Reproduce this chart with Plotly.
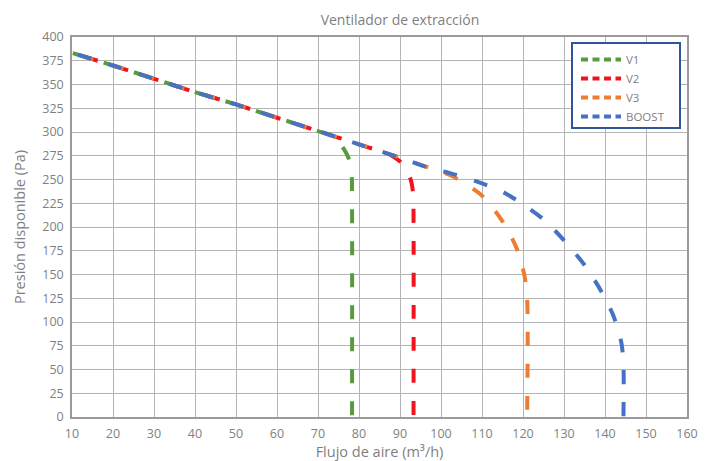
import plotly.graph_objects as go

# ---- data ----
common_x = [10.2, 20, 30, 40, 50, 60, 70]
common_p = [383, 370, 356, 342, 329, 315, 301]

v1_x = common_x + [74, 76, 77.5, 78.2, 78.3, 78.3]
v1_p = common_p + [295, 284, 272, 255, 225, 0]

v2_x = common_x + [80, 85, 88, 90.5, 92.6, 93.2, 93.3, 93.3]
v2_p = common_p + [287, 280, 275, 267, 250, 235, 210, 0]

v3_x = common_x + [80, 90, 98, 102, 105, 110, 115, 118.5, 120.3, 121, 121]
v3_p = common_p + [287, 273, 261, 255, 248, 233, 206, 177, 150, 125, 0]

boost_x = common_x + [80, 90, 98, 102, 105, 110, 115, 120, 125, 130, 135, 139, 142, 144, 144.5, 144.5]
boost_p = common_p + [287, 273, 261, 257, 253, 246, 237, 224, 208, 186, 160, 133, 107, 78, 55, 0]

series_names = ["V1", "V2", "V3", "BOOST"]
x_ticks = list(range(10, 161, 10))
y_ticks = list(range(0, 401, 25))

# ---- style ----
colors = ["#5a9a3e", "#f0141e", "#ed7d31", "#4472c4"]
dashes = ["14px,18px", "0px,12px,14px,6px", "0px,7px,14px,11px", "0px,5px,14px,13px"]
legend_dash = "7px,4.5px"
xs = [v1_x, v2_x, v3_x, boost_x]
ps = [v1_p, v2_p, v3_p, boost_p]

# page has an 8px body margin, so the figure is 8px smaller than the window
OFF = 8
W, H = 715 - OFF, 461 - OFF
L = 72 - OFF
R = W - (687 - OFF)
T = 37 - OFF
B = H - (417 - OFF)
FONT = "Open Sans"
GRAY = "#7f7f7f"
GRID = "#b4b4b4"

pw = W - L - R
ph = H - T - B


def px_x(page_x):
    return (page_x - OFF - L) / pw


def px_y(page_y):
    return (H - B - (page_y - OFF)) / ph


fig = go.Figure()
for name, x, p, c, d in zip(series_names, xs, ps, colors, dashes):
    fig.add_trace(go.Scatter(
        x=x, y=p, name=name, mode="lines", showlegend=False, legendgroup=name,
        line=dict(color=c, width=4, dash=d, shape="spline", smoothing=0.8),
    ))
# legend entries (same series, legend-only styling)
for name, c in zip(series_names, colors):
    fig.add_trace(go.Scatter(
        x=[None], y=[None], name=name, mode="lines", legendgroup=name,
        line=dict(color=c, width=4, dash=legend_dash),
    ))

# legend frame
fig.add_shape(type="rect", xref="paper", yref="paper",
              x0=px_x(572), x1=px_x(680), y0=px_y(128), y1=px_y(43),
              line=dict(color="#2f5597", width=2), fillcolor="white", layer="above")

fig.update_layout(
    width=W, height=H,
    margin=dict(l=L, r=R, t=T, b=B, autoexpand=False),
    paper_bgcolor="white", plot_bgcolor="white",
    font=dict(family=FONT, color=GRAY, size=12),
    title=dict(text="Ventilador de extracción", x=(400 - OFF) / W, xanchor="center",
               xref="container", y=1 - 7 / H, yanchor="top", yref="container",
               pad=dict(t=0, b=0),
               font=dict(size=14, color=GRAY, family=FONT)),
    showlegend=True,
    legend=dict(x=px_x(576), xanchor="left", y=px_y(45), yanchor="top",
                borderwidth=0, bgcolor="rgba(0,0,0,0)",
                font=dict(size=11.5, color=GRAY, family=FONT),
                itemwidth=40, tracegroupgap=0, traceorder="normal"),
    xaxis=dict(range=[10, 160], tickvals=x_ticks, ticktext=[str(v) for v in x_ticks],
               showgrid=True, gridcolor=GRID, gridwidth=1.3,
               showline=True, linecolor="#9a9a9a", linewidth=1.5, mirror=True,
               zeroline=False, ticks="outside", ticklen=4, tickcolor="rgba(0,0,0,0)",
               automargin=False,
               title=dict(text="Flujo de aire (m³/h)", font=dict(size=14.5, color=GRAY), standoff=3),
               tickfont=dict(size=12.5, color=GRAY)),
    yaxis=dict(range=[0, 400], tickvals=y_ticks, ticktext=[str(v) for v in y_ticks],
               showgrid=True, gridcolor=GRID, gridwidth=1.3,
               showline=True, linecolor="#9a9a9a", linewidth=1.5, mirror=True,
               zeroline=False, ticks="outside", ticklen=4, tickcolor="rgba(0,0,0,0)",
               automargin=False,
               title=dict(text="Presión disponible (Pa)", font=dict(size=14.5, color=GRAY), standoff=13),
               tickfont=dict(size=12.5, color=GRAY)),
)

fig.write_html("out.html")
